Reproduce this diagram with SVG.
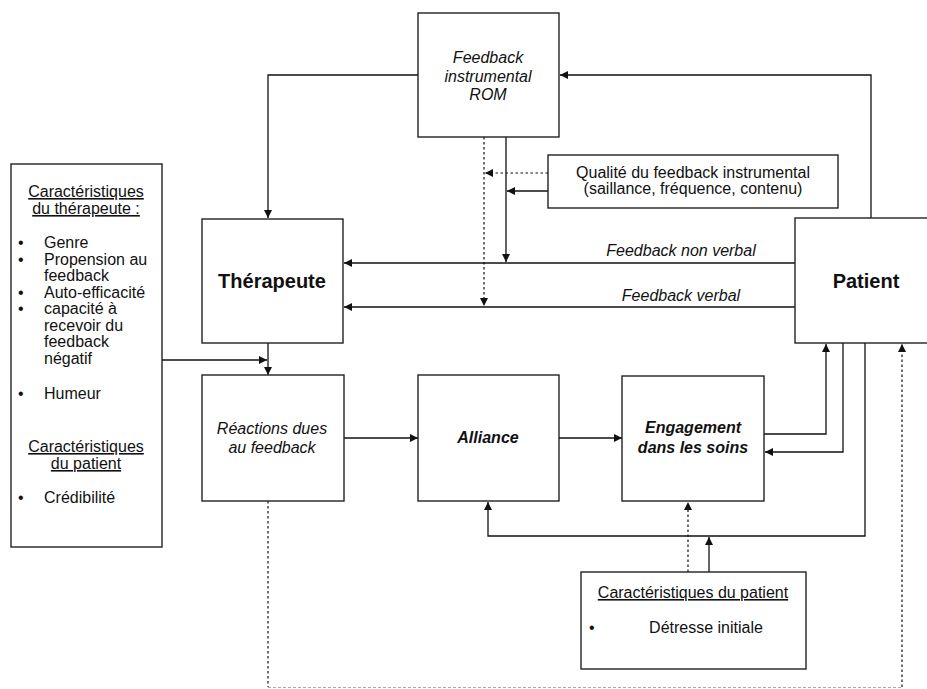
<svg xmlns="http://www.w3.org/2000/svg" width="927" height="689" viewBox="0 0 927 689">
<defs>
<style>
.box{fill:#fff;stroke:#222;stroke-width:1.4}
.ln{fill:none;stroke:#111;stroke-width:1.3}
.dot{fill:none;stroke:#111;stroke-width:1.2;stroke-dasharray:2.5 2.5}
.gray{fill:none;stroke:#aaa;stroke-width:1;stroke-dasharray:3 2}
text{font-family:"Liberation Sans",Arial,Helvetica,sans-serif;fill:#111}
.t{font-size:16px}
.it{font-size:16px;font-style:italic}
.big{font-size:20px;font-weight:bold}
.bi{font-size:16px;font-weight:bold;font-style:italic}
.u{text-decoration:underline}
</style>
<marker id="ah" viewBox="0 0 10 10" refX="10" refY="5" markerWidth="8" markerHeight="8" markerUnits="userSpaceOnUse" orient="auto">
<path d="M0,0 L10,5 L0,10 z" fill="#111"/>
</marker>
</defs>
<rect width="927" height="689" fill="#fff"/>

<g id="connectors">
<polyline class="ln" points="418,75 268,75 268,218" marker-end="url(#ah)"/>
<polyline class="ln" points="871,218 871,75 560,75" marker-end="url(#ah)"/>
<line class="dot" x1="484" y1="137" x2="484" y2="306" marker-end="url(#ah)"/>
<line class="ln" x1="506" y1="137" x2="506" y2="262" marker-end="url(#ah)"/>
<line class="dot" x1="548" y1="173" x2="485" y2="173" marker-end="url(#ah)"/>
<line class="ln" x1="548" y1="191" x2="507" y2="191" marker-end="url(#ah)"/>
<line class="ln" x1="795" y1="263" x2="344" y2="263" marker-end="url(#ah)"/>
<line class="ln" x1="795" y1="307" x2="344" y2="307" marker-end="url(#ah)"/>
<line class="ln" x1="162" y1="360" x2="267" y2="360" marker-end="url(#ah)"/>
<line class="ln" x1="268" y1="343" x2="268" y2="375" marker-end="url(#ah)"/>
<line class="ln" x1="344" y1="438" x2="418" y2="438" marker-end="url(#ah)"/>
<line class="ln" x1="559" y1="438" x2="622" y2="438" marker-end="url(#ah)"/>
<polyline class="ln" points="764,434 826,434 826,344" marker-end="url(#ah)"/>
<polyline class="ln" points="843,343 843,452 765,452" marker-end="url(#ah)"/>
<polyline class="ln" points="865,343 865,536 488,536 488,502" marker-end="url(#ah)"/>
<line class="dot" x1="688" y1="572" x2="688" y2="502" marker-end="url(#ah)"/>
<line class="ln" x1="709" y1="572" x2="709" y2="537" marker-end="url(#ah)"/>
<line class="dot" x1="268" y1="501" x2="268" y2="687"/>
<line class="gray" x1="268" y1="687.5" x2="902" y2="687.5"/>
<line class="dot" x1="902" y1="687" x2="902" y2="344" marker-end="url(#ah)"/>
</g>

<g id="rom">
<rect class="box" x="418" y="13" width="141" height="124"/>
<text class="it" x="488" y="63" text-anchor="middle">Feedback</text>
<text class="it" x="488" y="82" text-anchor="middle">instrumental</text>
<text class="it" x="488" y="100" text-anchor="middle">ROM</text>
</g>

<g id="qualite">
<rect class="box" x="548" y="155" width="290" height="53"/>
<text class="t" x="693" y="178" text-anchor="middle">Qualité du feedback instrumental</text>
<text class="t" x="693" y="194" text-anchor="middle">(saillance, fréquence, contenu)</text>
</g>

<g id="therapeute">
<rect class="box" x="202" y="219" width="141" height="124"/>
<text class="big" x="272" y="288" text-anchor="middle">Thérapeute</text>
</g>

<g id="patient">
<rect class="box" x="795" y="218" width="140" height="125"/>
<text class="big" x="866" y="288" text-anchor="middle">Patient</text>
</g>

<g id="labels">
<text class="it" x="681" y="256" text-anchor="middle">Feedback non verbal</text>
<text class="it" x="681" y="301" text-anchor="middle">Feedback verbal</text>
</g>

<g id="caracteristiques-therapeute">
<rect class="box" x="11" y="164" width="151" height="383"/>
<text class="t u" x="86" y="197" text-anchor="middle">Caractéristiques</text>
<text class="t u" x="86" y="214" text-anchor="middle">du thérapeute :</text>
<text class="t" x="18" y="248">•</text><text class="t" x="44" y="248">Genre</text>
<text class="t" x="18" y="265">•</text><text class="t" x="44" y="265">Propension au</text>
<text class="t" x="44" y="281">feedback</text>
<text class="t" x="18" y="298">•</text><text class="t" x="44" y="298">Auto-efficacité</text>
<text class="t" x="18" y="314">•</text><text class="t" x="44" y="314">capacité à</text>
<text class="t" x="44" y="331">recevoir du</text>
<text class="t" x="44" y="347">feedback</text>
<text class="t" x="44" y="364">négatif</text>
<text class="t" x="18" y="399">•</text><text class="t" x="44" y="399">Humeur</text>
<text class="t u" x="86" y="452" text-anchor="middle">Caractéristiques</text>
<text class="t u" x="86" y="469" text-anchor="middle">du patient</text>
<text class="t" x="18" y="503">•</text><text class="t" x="44" y="503">Crédibilité</text>
</g>

<g id="reactions">
<rect class="box" x="202" y="375" width="142" height="126"/>
<text class="it" x="272" y="434" text-anchor="middle">Réactions dues</text>
<text class="it" x="272" y="453" text-anchor="middle">au feedback</text>
</g>

<g id="alliance">
<rect class="box" x="418" y="375" width="141" height="126"/>
<text class="bi" x="488" y="443" text-anchor="middle">Alliance</text>
</g>

<g id="engagement">
<rect class="box" x="622" y="376" width="142" height="125"/>
<text class="bi" x="693" y="433" text-anchor="middle">Engagement</text>
<text class="bi" x="693" y="453" text-anchor="middle">dans les soins</text>
</g>

<g id="caracteristiques-patient">
<rect class="box" x="581" y="572" width="225" height="97"/>
<text class="t u" x="693" y="598" text-anchor="middle">Caractéristiques du patient</text>
<text class="t" x="589" y="633">•</text>
<text class="t" x="706" y="633" text-anchor="middle">Détresse initiale</text>
</g>
</svg>
